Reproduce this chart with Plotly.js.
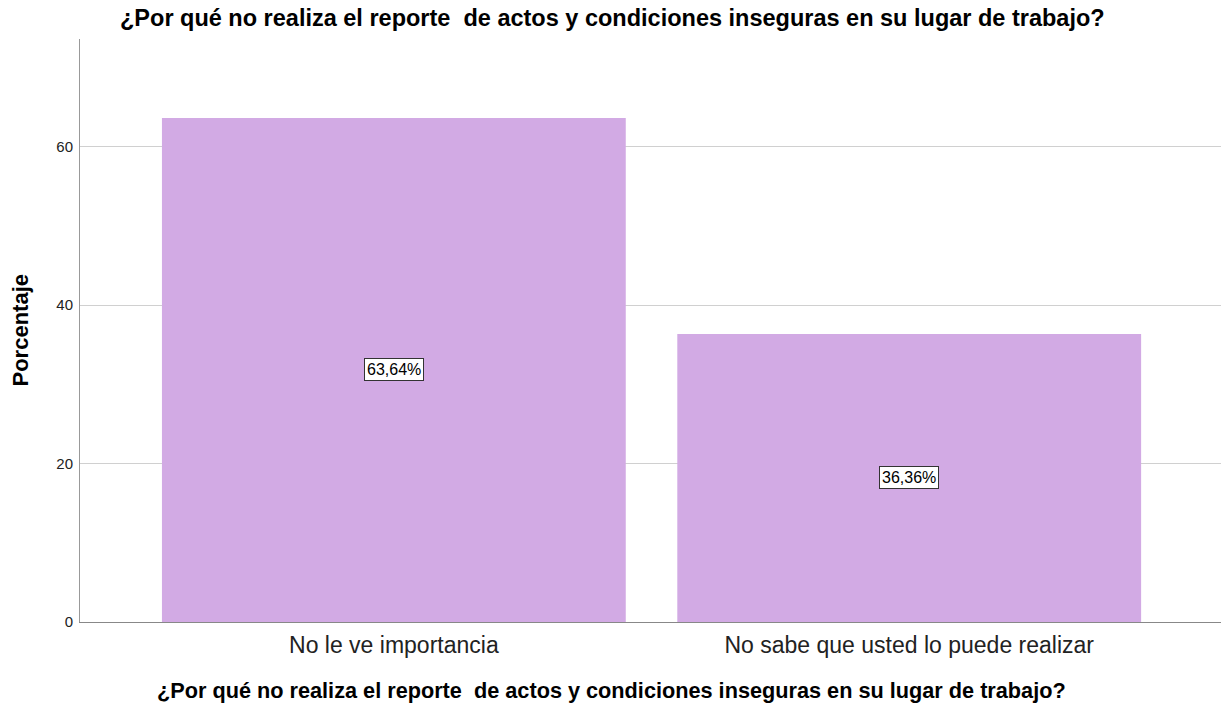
<!DOCTYPE html>
<html><head><meta charset="utf-8">
<script src="https://cdn.plot.ly/plotly-3.0.1.min.js"></script>
<style>html,body{margin:0;padding:0;background:#fff}#chart{width:1221px;height:708px}</style>
</head><body><div id="chart"></div>
<script>
const categories = ["No le ve importancia", "No sabe que usted lo puede realizar"];
const percentages = [63.64, 36.36];
const labels = ["63,64%", "36,36%"];
const yTicks = [0, 20, 40, 60];
const titleText = "¿Por qué no realiza el reporte  de actos y condiciones inseguras en su lugar de trabajo?";
const yTitle = "Porcentaje";

const FONT = 'Arial, "Liberation Sans", sans-serif';
const trace = {
  type: 'bar', x: categories, y: percentages, width: 0.9,
  marker: {color: '#d2aae4', line: {width: 0}}, hoverinfo: 'skip'
};
const annotations = categories.map((c, i) => ({
  x: c, y: percentages[i] / 2, xref: 'x', yref: 'y', text: labels[i], showarrow: false,
  font: {family: FONT, size: 16, color: '#000'},
  bgcolor: '#ffffff', bordercolor: '#333', borderwidth: 1, borderpad: 2
}));
annotations.push({
  text: '<b>' + titleText + '</b>', xref: 'paper', yref: 'paper', x: 0.4654, y: 0,
  yshift: -68, xanchor: 'center', yanchor: 'middle', showarrow: false,
  font: {family: FONT, size: 21.7, color: '#000'}
});
annotations.push({
  text: '<b>' + yTitle + '</b>', xref: 'paper', yref: 'paper', x: 0, y: 0.5,
  xshift: -60, xanchor: 'center', yanchor: 'middle', textangle: -90, showarrow: false,
  font: {family: FONT, size: 22, color: '#000'}
});
const layout = {
  width: 1221, height: 708,
  margin: {l: 80, r: 0, t: 39, b: 86},
  paper_bgcolor: '#fff', plot_bgcolor: '#fff',
  showlegend: false,
  title: {text: '<b>' + titleText + '</b>', x: 0.5015, xref: 'container', xanchor: 'center', y: 0.9746, yref: 'container', yanchor: 'middle',
    font: {family: FONT, size: 23.5, color: '#000'}},
  xaxis: {type: 'category', range: [-0.609, 1.605], showgrid: false, zeroline: false,
    showline: true, linecolor: '#888', linewidth: 1, ticks: '',
    tickfont: {family: FONT, size: 23, color: '#222'}, ticklabelstandoff: 2},
  yaxis: {range: [0, 73.6], tickvals: yTicks, ticktext: yTicks.map(String),
    showgrid: true, gridcolor: '#d0d0d0', gridwidth: 1, zeroline: false,
    showline: true, linecolor: '#999', linewidth: 1, ticks: '',
    tickfont: {family: FONT, size: 15, color: '#222'}, ticklabelstandoff: 3},
  annotations: annotations, bargap: 0.1
};
Plotly.newPlot('chart', [trace], layout, {displayModeBar: false, staticPlot: true});
</script></body></html>
